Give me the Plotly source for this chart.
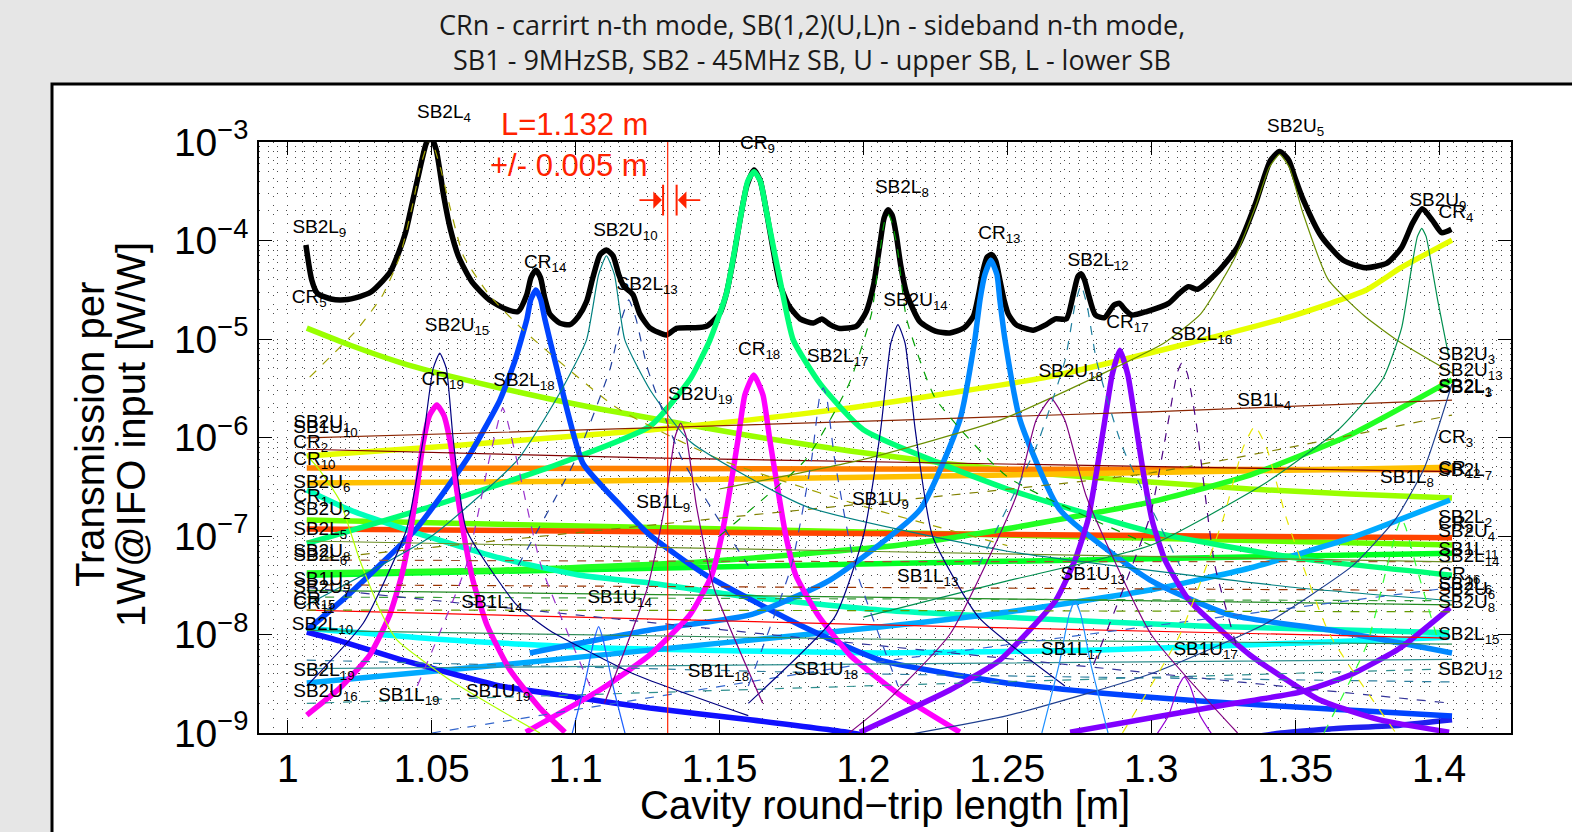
import math
import plotly.graph_objects as go

# ================= DATA =================
# black: total transmission
total_x = [1.0063, 1.0083, 1.0103, 1.0150, 1.0196, 1.0250, 1.0289, 1.0330, 1.0356, 1.0385,
           1.0409, 1.0435, 1.0460, 1.0480, 1.0495, 1.0515, 1.0542, 1.0565, 1.0594, 1.0640,
           1.0700, 1.0760, 1.0800, 1.0830, 1.0845, 1.0862, 1.0878, 1.0893, 1.0910, 1.0945,
           1.0980, 1.1010, 1.1038, 1.1060, 1.1085, 1.1107, 1.1130, 1.1150, 1.1168, 1.1185,
           1.1200, 1.1223, 1.1258, 1.1316, 1.1350, 1.1408, 1.1455, 1.1500, 1.1524, 1.1550,
           1.1571, 1.1595, 1.1620, 1.1642, 1.1664, 1.1690, 1.1710, 1.1740, 1.1780, 1.1826,
           1.1855, 1.1884, 1.1918, 1.1976, 1.2010, 1.2035, 1.2057, 1.2072, 1.2086, 1.2100,
           1.2115, 1.2130, 1.2150, 1.2196, 1.2250, 1.2300, 1.2350, 1.2382, 1.2400, 1.2416,
           1.2430, 1.2446, 1.2460, 1.2474, 1.2490, 1.2503, 1.2530, 1.2590, 1.2635, 1.2667,
           1.2705, 1.2730, 1.2745, 1.2756, 1.2768, 1.2781, 1.2806, 1.2838, 1.2870, 1.2890,
           1.2908, 1.2933, 1.2984, 1.3060, 1.3097, 1.3129, 1.3161, 1.3237, 1.3300, 1.3363,
           1.3390, 1.3414, 1.3446, 1.3477, 1.3500, 1.3528, 1.3591, 1.3667, 1.3743, 1.3819,
           1.3870, 1.3908, 1.3942, 1.3977, 1.4009, 1.4043]
total_y = [9.0e-5, 4.0e-5, 2.9e-5, 2.55e-5, 2.5e-5, 2.7e-5, 3.0e-5, 3.9e-5, 4.8e-5, 7.5e-5,
           1.2e-4, 2.6e-4, 5.5e-4, 9.5e-4, 1.15e-3, 8.5e-4, 2.8e-4, 1.3e-4, 6.8e-5, 3.8e-5,
           2.5e-5, 2.0e-5, 1.9e-5, 2.8e-5, 4.2e-5, 5.0e-5, 4.2e-5, 2.6e-5, 1.8e-5, 1.45e-5,
           1.4e-5, 1.7e-5, 2.4e-5, 4.2e-5, 7.2e-5, 8.0e-5, 7.0e-5, 4.5e-5, 3.4e-5, 3.1e-5,
           2.8e-5, 1.8e-5, 1.3e-5, 1.1e-5, 1.28e-5, 1.3e-5, 1.35e-5, 1.8e-5, 2.9e-5, 7.0e-5,
           1.6e-4, 3.6e-4, 5.2e-4, 4.0e-4, 1.9e-4, 7.0e-5, 3.6e-5, 2.2e-5, 1.6e-5, 1.45e-5,
           1.6e-5, 1.4e-5, 1.28e-5, 1.35e-5, 1.9e-5, 3.5e-5, 9.0e-5, 1.7e-4, 2.05e-4, 1.8e-4,
           1.1e-4, 5.5e-5, 2.9e-5, 1.5e-5, 1.2e-5, 1.15e-5, 1.3e-5, 1.7e-5, 2.8e-5, 5.0e-5,
           6.8e-5, 7.2e-5, 6.2e-5, 4.0e-5, 2.4e-5, 1.8e-5, 1.4e-5, 1.23e-5, 1.4e-5, 1.6e-5,
           1.6e-5, 2.9e-5, 4.3e-5, 4.6e-5, 4.0e-5, 2.9e-5, 1.75e-5, 1.65e-5, 2.2e-5, 2.3e-5,
           2.0e-5, 1.75e-5, 1.9e-5, 2.3e-5, 2.9e-5, 3.4e-5, 3.2e-5, 5.0e-5, 8.6e-5, 2.4e-4,
           4.2e-4, 6.5e-4, 8.0e-4, 6.6e-4, 4.3e-4, 2.6e-4, 1.1e-4, 6.3e-5, 5.3e-5, 5.9e-5,
           8.5e-5, 1.5e-4, 2.1e-4, 1.6e-4, 1.2e-4, 1.3e-4]

# ---- thick mode curves ----
cr5_x = [1.0066, 1.0215, 1.0389, 1.0563, 1.0737, 1.0911, 1.1084, 1.1258, 1.1606, 1.1953, 1.2301, 1.2648, 1.2996, 1.3343, 1.3691, 1.4045]
cr5_y = [1.29e-5, 8.7e-6, 5.8e-6, 4.2e-6, 3.18e-6, 2.46e-6, 1.95e-6, 1.58e-6, 1.04e-6, 7.3e-7, 5.4e-7, 4.26e-7, 3.53e-7, 3.0e-7, 2.67e-7, 2.43e-7]
cr4_x = [1.0066, 1.0563, 1.0911, 1.1258, 1.1606, 1.1953, 1.2301, 1.2638, 1.3107, 1.3489, 1.3743, 1.3868, 1.4045]
cr4_y = [6.5e-7, 8.2e-7, 9.9e-7, 1.19e-6, 1.51e-6, 1.99e-6, 2.83e-6, 4.1e-6, 8.7e-6, 1.71e-5, 3.1e-5, 5.3e-5, 1.01e-4]
cr10_x = [1.0066, 1.2000, 1.4045]
cr10_y = [4.9e-7, 4.8e-7, 4.7e-7]
sb2u6_x = [1.0066, 1.1000, 1.2000, 1.3000, 1.4045]
sb2u6_y = [3.45e-7, 3.6e-7, 3.95e-7, 4.4e-7, 5.0e-7]
sb2l5_x = [1.0066, 1.2000, 1.4045]
sb2l5_y = [1.18e-7, 1.06e-7, 9.6e-8]
sb2u2_x = [1.0066, 1.2000, 1.4045]
sb2u2_y = [1.45e-7, 1.1e-7, 8.1e-8]
sb2u8_x = [1.0066, 1.2000, 1.4045]
sb2u8_y = [4.0e-8, 5.2e-8, 6.7e-8]
sb2l3_x = [1.0066, 1.0737, 1.1432, 1.2127, 1.2474, 1.2996, 1.3343, 1.3691, 1.4045]
sb2l3_y = [4.2e-8, 4.5e-8, 5.45e-8, 8.1e-8, 1.15e-7, 2.21e-7, 4.16e-7, 1.06e-6, 3.84e-6]
cr9_x = [1.0066, 1.0500, 1.0911, 1.1258, 1.1400, 1.1467, 1.1524, 1.1571, 1.1598, 1.1620,
         1.1642, 1.1664, 1.1710, 1.1756, 1.1850, 1.2000, 1.2500, 1.3000, 1.3500, 1.4045]
cr9_y = [8.4e-8, 2.0e-7, 5.0e-7, 1.3e-6, 4.0e-6, 9.8e-6, 2.9e-5, 1.6e-4, 4.0e-4, 5.0e-4,
         4.0e-4, 1.9e-4, 4.0e-5, 9.8e-6, 3.5e-6, 1.2e-6, 3.0e-7, 1.1e-7, 6.0e-8, 4.0e-8]
cr2_x = [1.0066, 1.0215, 1.0448, 1.0737, 1.1015, 1.1258, 1.1606, 1.2057, 1.2474, 1.3169, 1.4035]
cr2_y = [2.93e-7, 1.84e-7, 1.07e-7, 5.98e-8, 4.0e-8, 3.33e-8, 2.4e-8, 1.77e-8, 1.51e-8, 1.22e-8, 1.04e-8]
sb2l15_x = [1.0066, 1.0563, 1.1084, 1.2057, 1.2822, 1.3517, 1.4035]
sb2l15_y = [1.16e-8, 8.8e-9, 7.3e-9, 6.5e-9, 6.96e-9, 8.2e-9, 9.4e-9]
sb2l19_x = [1.0066, 1.0737, 1.1432, 1.2057, 1.2474, 1.2996, 1.3343, 1.3691, 1.4038]
sb2l19_y = [3.22e-9, 4.9e-9, 7.8e-9, 1.19e-8, 1.65e-8, 2.83e-8, 4.73e-8, 9.5e-8, 2.32e-7]
cr14_x = [1.0066, 1.0215, 1.0448, 1.0622, 1.0737, 1.0789, 1.0831, 1.0844, 1.0862, 1.0879, 1.0893,
          1.0935, 1.1025, 1.1154, 1.1258, 1.1453, 1.1779, 1.2057, 1.2474, 1.2822, 1.3169, 1.3621, 1.4045]
cr14_y = [1.1e-8, 2.6e-8, 1.2e-7, 6.0e-7, 2.4e-6, 6.0e-6, 1.6e-5, 2.5e-5, 3.14e-5, 2.5e-5, 1.6e-5,
          5.0e-6, 5.5e-7, 2.07e-7, 1.02e-7, 4.0e-8, 1.25e-8, 5.5e-9, 3.3e-9, 2.55e-9, 2.11e-9, 1.75e-9, 1.49e-9]
sb2l10_x = [1.0066, 1.0181, 1.0389, 1.0563, 1.0737, 1.0994, 1.1258, 1.1606, 1.1960, 1.2127]
sb2l10_y = [1.06e-8, 8.6e-9, 5.6e-9, 4.06e-9, 3.0e-9, 2.32e-9, 1.79e-9, 1.36e-9, 1.0e-9, 8.0e-10]
cr20_x = [1.3169, 1.3451, 1.3621, 1.3865, 1.4045]
cr20_y = [7.5e-10, 1.0e-9, 1.1e-9, 1.2e-9, 1.36e-9]
cr13_x = [1.0841, 1.1258, 1.1606, 1.1884, 1.2196, 1.2335, 1.2387, 1.2405, 1.2422, 1.2443,
          1.2464, 1.2474, 1.2492, 1.2544, 1.2683, 1.2996, 1.3274, 1.3621, 1.4045]
cr13_y = [6.5e-9, 1.11e-8, 1.58e-8, 3.57e-8, 1.84e-7, 1.51e-6, 9.8e-6, 2.49e-5, 4.5e-5, 6.3e-5,
          4.5e-5, 2.49e-5, 9.8e-6, 1.51e-6, 1.84e-7, 3.57e-8, 1.58e-8, 1.11e-8, 6.5e-9]
cr19_x = [1.0066, 1.0181, 1.0285, 1.0354, 1.0396, 1.0424, 1.0448, 1.0469, 1.0493, 1.0518,
          1.0542, 1.0566, 1.0587, 1.0612, 1.0643, 1.0692, 1.0772, 1.0876, 1.0963]
cr19_y = [1.52e-9, 2.86e-9, 6.2e-9, 1.58e-8, 4.0e-8, 1.02e-7, 2.93e-7, 8.4e-7, 1.69e-6, 2.14e-6,
          1.69e-6, 8.4e-7, 2.93e-7, 1.02e-7, 3.57e-8, 1.25e-8, 4.36e-9, 1.79e-9, 1.02e-9]
cr18_x = [1.0827, 1.1084, 1.1258, 1.1397, 1.1473, 1.1508, 1.1536, 1.1564, 1.1588, 1.1619,
          1.1651, 1.1675, 1.1703, 1.1730, 1.1765, 1.1842, 1.1953, 1.2127, 1.2335]
cr18_y = [1.02e-9, 2.73e-9, 6.2e-9, 1.58e-8, 4.0e-8, 1.02e-7, 2.93e-7, 9.4e-7, 2.7e-6, 4.3e-6,
          2.7e-6, 9.4e-7, 2.93e-7, 1.02e-7, 4.0e-8, 1.58e-8, 6.2e-9, 2.43e-9, 1.02e-9]
cr17_x = [1.1988, 1.2057, 1.2301, 1.2474, 1.2669, 1.2735, 1.2780, 1.2811, 1.2839, 1.2864, 1.2891,
          1.2919, 1.2944, 1.2971, 1.3003, 1.3048, 1.3131, 1.3343, 1.3586, 1.3795, 1.4035]
cr17_y = [1.02e-9, 1.26e-9, 2.73e-9, 5.5e-9, 2.24e-8, 5.7e-8, 1.45e-7, 4.68e-7, 1.51e-6, 4.3e-6, 7.7e-6,
          4.3e-6, 1.51e-6, 4.68e-7, 1.45e-7, 5.7e-8, 2.24e-8, 6.2e-9, 2.16e-9, 1.36e-9, 1.02e-9]
cr16_x = [1.2718, 1.2996, 1.3274, 1.3517, 1.3691, 1.3865, 1.4038]
cr16_y = [1.02e-9, 1.42e-9, 1.97e-9, 2.6e-9, 3.88e-9, 7.3e-9, 1.86e-8]

# ---- thin sideband curves ----
sb2l4_x = [1.0076, 1.0240, 1.0330, 1.0390, 1.0435, 1.0460, 1.0495, 1.0530, 1.0560, 1.0610, 1.0700, 1.0817, 1.1143, 1.1500, 1.2000, 1.2500]
sb2l4_y = [4.1e-6, 1.24e-5, 2.8e-5, 7.0e-5, 2.4e-4, 5.5e-4, 1.1e-3, 5.5e-4, 2.4e-4, 7.0e-5, 2.8e-5, 1.24e-5, 2.0e-6, 6.0e-7, 2.0e-7, 8.0e-8]
sb2u10_x = [1.0066, 1.0500, 1.0800, 1.0950, 1.1038, 1.1080, 1.1107, 1.1135, 1.1171, 1.1260, 1.1400, 1.1800, 1.2500, 1.3500, 1.4045]
sb2u10_y = [2.0e-8, 1.0e-7, 6.0e-7, 3.0e-6, 9.8e-6, 4.5e-5, 7.0e-5, 4.5e-5, 9.8e-6, 3.0e-6, 9.0e-7, 2.0e-7, 7.0e-8, 3.0e-8, 2.2e-8]
sb2l8_x = [1.1500, 1.1800, 1.1950, 1.2028, 1.2057, 1.2072, 1.2086, 1.2100, 1.2119, 1.2150, 1.2250, 1.2500, 1.3000]
sb2l8_y = [1.0e-7, 6.0e-7, 3.5e-6, 1.8e-5, 7.5e-5, 1.5e-4, 1.85e-4, 1.5e-4, 8.0e-5, 1.6e-5, 2.5e-6, 4.0e-7, 8.0e-8]
sb2u5_x = [1.1500, 1.2000, 1.2474, 1.2855, 1.3045, 1.3172, 1.3286, 1.3362, 1.3410, 1.3446, 1.3480, 1.3527, 1.3615, 1.3742, 1.3869, 1.4047]
sb2u5_y = [3.0e-7, 6.0e-7, 1.5e-6, 4.8e-6, 9.1e-6, 1.8e-5, 6.3e-5, 2.2e-4, 5.5e-4, 7.5e-4, 5.5e-4, 1.9e-4, 4.0e-5, 1.7e-5, 9.1e-6, 4.5e-6]
sb2u9_x = [1.2000, 1.2500, 1.2996, 1.3400, 1.3650, 1.3806, 1.3870, 1.3905, 1.3925, 1.3940, 1.3955, 1.3975, 1.3995, 1.4034]
sb2u9_y = [1.5e-8, 3.5e-8, 8.0e-8, 3.5e-7, 1.2e-6, 4.0e-6, 1.3e-5, 5.4e-5, 1.1e-4, 1.33e-4, 1.1e-4, 5.4e-5, 2.5e-5, 6.6e-6]
sb2u15_x = [1.0066, 1.0262, 1.0412, 1.0470, 1.0505, 1.0528, 1.0551, 1.0575, 1.0621, 1.0795, 1.0910, 1.1200, 1.1600]
sb2u15_y = [3.0e-9, 1.3e-8, 1.15e-7, 9.4e-7, 5.0e-6, 7.2e-6, 5.0e-6, 9.4e-7, 1.15e-7, 2.0e-8, 1.1e-8, 4.0e-9, 1.5e-9]
sb2u14_x = [1.1600, 1.1900, 1.2000, 1.2060, 1.2095, 1.2120, 1.2145, 1.2180, 1.2240, 1.2400, 1.2700]
sb2u14_y = [2.0e-9, 1.5e-8, 1.0e-7, 1.2e-6, 9.0e-6, 1.4e-5, 9.0e-6, 1.2e-6, 1.0e-7, 1.5e-8, 3.0e-9]
sb2u19_x = [1.1100, 1.1250, 1.1310, 1.1345, 1.1365, 1.1385, 1.1420, 1.1480, 1.1650]
sb2u19_y = [2.0e-9, 3.0e-8, 2.0e-7, 1.0e-6, 1.4e-6, 1.0e-6, 2.0e-7, 3.0e-8, 2.0e-9]
sb2u18_x = [1.1950, 1.2057, 1.2300, 1.2530, 1.2600, 1.2652, 1.2700, 1.2775, 1.3000, 1.3300]
sb2u18_y = [1.0e-9, 1.8e-9, 1.0e-8, 2.5e-7, 1.5e-6, 2.5e-6, 1.5e-6, 2.5e-7, 1.0e-8, 1.0e-9]
sb2l13_x = [1.0800, 1.1000, 1.1120, 1.1160, 1.1185, 1.1210, 1.1250, 1.1370, 1.1600]
sb2l13_y = [5.0e-8, 6.0e-7, 5.0e-6, 1.6e-5, 2.5e-5, 1.6e-5, 5.0e-6, 6.0e-7, 5.0e-8]
sb2l12_x = [1.2400, 1.2600, 1.2700, 1.2735, 1.2756, 1.2777, 1.2810, 1.2900, 1.3100]
sb2l12_y = [5.0e-8, 8.0e-7, 6.0e-6, 2.2e-5, 3.5e-5, 2.2e-5, 6.0e-6, 8.0e-7, 5.0e-8]
sb2l16_x = [1.2800, 1.2996, 1.3060, 1.3090, 1.3106, 1.3125, 1.3155, 1.3220, 1.3300]
sb2l16_y = [5.0e-9, 1.6e-7, 1.5e-6, 4.5e-6, 5.7e-6, 4.5e-6, 1.5e-6, 5.2e-8, 7.0e-9]
sb2l18_x = [1.0450, 1.0620, 1.0700, 1.0735, 1.0747, 1.0760, 1.0795, 1.0880, 1.1050]
sb2l18_y = [3.0e-9, 5.0e-8, 6.0e-7, 1.6e-6, 2.0e-6, 1.6e-6, 6.0e-7, 5.0e-8, 3.0e-9]
sb2l17_x = [1.1600, 1.1750, 1.1820, 1.1848, 1.1860, 1.1872, 1.1900, 1.1970, 1.2120]
sb2l17_y = [3.0e-9, 5.0e-8, 6.0e-7, 2.6e-6, 3.2e-6, 2.6e-6, 6.0e-7, 5.0e-8, 3.0e-9]
sb1l8_x = [1.2900, 1.3100, 1.3250, 1.3320, 1.3360, 1.3400, 1.3470, 1.3620, 1.3850]
sb1l8_y = [1.0e-9, 1.0e-8, 1.5e-7, 8.0e-7, 1.3e-6, 8.0e-7, 1.5e-7, 1.0e-8, 1.0e-9]
sb1u8_x = [1.3600, 1.3750, 1.3820, 1.3855, 1.3870, 1.3885, 1.3920, 1.4000]
sb1u8_y = [1.0e-9, 8.0e-9, 5.0e-8, 1.2e-7, 1.5e-7, 1.2e-7, 5.0e-8, 8.0e-9]
sb1l17_x = [1.2620, 1.2680, 1.2715, 1.2735, 1.2755, 1.2790, 1.2850]
sb1l17_y = [1.0e-9, 5.0e-9, 1.6e-8, 2.2e-8, 1.6e-8, 5.0e-9, 1.0e-9]
sb1u17_x = [1.3000, 1.3060, 1.3095, 1.3115, 1.3135, 1.3170, 1.3230]
sb1u17_y = [8.0e-10, 1.5e-9, 3.0e-9, 3.7e-9, 3.0e-9, 1.5e-9, 8.0e-10]
sb1u14_x = [1.0980, 1.1030, 1.1065, 1.1080, 1.1095, 1.1130, 1.1180]
sb1u14_y = [8.0e-10, 3.0e-9, 9.0e-9, 1.2e-8, 9.0e-9, 3.0e-9, 8.0e-10]
cr1_x = [1.0066, 1.0110, 1.0180, 1.0250, 1.0320, 1.0379, 1.0563, 1.0737, 1.0876]
cr1_y = [6.6e-7, 4.7e-7, 2.3e-7, 5.7e-8, 1.77e-8, 8.8e-9, 3.45e-9, 1.71e-9, 1.0e-9]
sb2u13_x = [1.2000, 1.2500, 1.3000, 1.3400, 1.3700, 1.3850, 1.3950, 1.4045]
sb2u13_y = [8.0e-10, 1.5e-9, 4.0e-9, 1.3e-8, 5.0e-8, 1.5e-7, 5.0e-7, 3.5e-6]
sb1l4_x = [1.0066, 1.1258, 1.2996, 1.4045]
sb1l4_y = [9.9e-7, 1.25e-6, 1.82e-6, 2.4e-6]
sb1u5_x = [1.0066, 1.1258, 1.4045]
sb1u5_y = [7.6e-7, 6.2e-7, 4.5e-7]
cr15_x = [1.0066, 1.2057, 1.4035]
cr15_y = [1.77e-8, 1.25e-8, 9.2e-9]
sb2l1_x = [1.0066, 1.1432, 1.2996, 1.4045]
sb2l1_y = [5.7e-8, 1.45e-7, 4.36e-7, 1.69e-6]
sb1l11_x = [1.0066, 1.2000, 1.4045]
sb1l11_y = [5.7e-8, 5.5e-8, 5.5e-8]
sb1u3_x = [1.0066, 1.2000, 1.4045]
sb1u3_y = [3.2e-8, 3.0e-8, 2.8e-8]
sb2l14_x = [1.0066, 1.2000, 1.4045]
sb2l14_y = [8.9e-8, 7.0e-8, 5.45e-8]
sb2u7_x = [1.0066, 1.2000, 1.4045]
sb2u7_y = [2.8e-8, 2.4e-8, 2.0e-8]
sb2l6_x = [1.0066, 1.2000, 1.4045]
sb2l6_y = [1.77e-8, 1.75e-8, 1.7e-8]
sb2u12_x = [1.0066, 1.2000, 1.4045]
sb2u12_y = [4.5e-9, 5.0e-9, 5.6e-9]
sb2u16_x = [1.0066, 1.2000, 1.4045]
sb2u16_y = [2.0e-9, 3.0e-9, 4.5e-9]
cr11_x = [1.0066, 1.2000, 1.4045]
cr11_y = [1.1e-8, 9.0e-9, 8.0e-9]
sb1l13_x = [1.0066, 1.2000, 1.4045]
sb1l13_y = [2.4e-8, 2.3e-8, 2.2e-8]
sb1u13_x = [1.0500, 1.2000, 1.4045]
sb1u13_y = [1.0e-9, 5.0e-9, 3.0e-8]
sb1l14_x = [1.0066, 1.2000, 1.4045]
sb1l14_y = [3.0e-8, 8.0e-9, 2.0e-9]
sb1l18_x = [1.0066, 1.2000, 1.4045]
sb1l18_y = [5.5e-9, 4.0e-9, 3.3e-9]

# ---- curve labels inside the axes (text, data x, data y) ----
label_text = ["CR<sub>9</sub>", "SB2L<sub>8</sub>", "SB2U<sub>9</sub>", "CR<sub>4</sub>",
              "SB2L<sub>9</sub>", "SB2U<sub>10</sub>", "CR<sub>14</sub>", "SB2L<sub>13</sub>", "CR<sub>13</sub>", "SB2U<sub>14</sub>",
              "SB2L<sub>12</sub>", "CR<sub>17</sub>", "SB2L<sub>16</sub>", "CR<sub>5</sub>", "SB2U<sub>15</sub>", "CR<sub>18</sub>",
              "SB2L<sub>17</sub>", "CR<sub>19</sub>", "SB2L<sub>18</sub>", "SB2U<sub>18</sub>", "SB2U<sub>19</sub>", "SB1L<sub>4</sub>",
              "SB1L<sub>8</sub>", "SB1L<sub>9</sub>", "SB1U<sub>9</sub>", "SB1L<sub>13</sub>", "SB1U<sub>13</sub>", "SB1L<sub>14</sub>",
              "SB1U<sub>14</sub>", "SB1L<sub>17</sub>", "SB1U<sub>17</sub>", "SB1L<sub>18</sub>", "SB1U<sub>18</sub>", "SB1L<sub>19</sub>",
              "SB1U<sub>19</sub>", "SB2L<sub>19</sub>", "SB2U<sub>16</sub>", "SB2L<sub>10</sub>",
              "SB2U<sub>1</sub>", "SB1U<sub>10</sub>", "CR<sub>2</sub>", "CR<sub>10</sub>", "SB2U<sub>6</sub>", "CR<sub>1</sub>",
              "SB2U<sub>2</sub>", "SB2L<sub>5</sub>", "SB2U<sub>8</sub>", "SB2L<sub>6</sub>", "SB1U<sub>3</sub>", "SB2U<sub>7</sub>",
              "CR<sub>15</sub>", "CR<sub>11</sub>",
              "SB2U<sub>3</sub>", "SB2U<sub>13</sub>", "SB2L<sub>1</sub>", "SB2L<sub>3</sub>", "CR<sub>3</sub>", "CR<sub>12</sub>",
              "SB2L<sub>7</sub>", "SB2L<sub>2</sub>", "CR<sub>8</sub>", "SB2U<sub>4</sub>", "SB1L<sub>11</sub>", "SB2L<sub>14</sub>",
              "CR<sub>16</sub>", "SB2L<sub>6</sub>", "SB2U<sub>6</sub>", "SB2U<sub>8</sub>", "SB2L<sub>15</sub>", "SB2U<sub>12</sub>"]
label_x = [1.1571, 1.2040, 1.3897, 1.3998,
           1.0016, 1.1061, 1.0821, 1.1142, 1.2399, 1.2069,
           1.2709, 1.2844, 1.3068, 1.0014, 1.0476, 1.1564,
           1.1804, 1.0465, 1.0714, 1.2608, 1.1321, 1.3299,
           1.3795, 1.1211, 1.1960, 1.2117, 1.2685, 1.0603,
           1.1041, 1.2617, 1.3077, 1.1390, 1.1758, 1.0314,
           1.0619, 1.0019, 1.0019, 1.0014,
           1.0019, 1.0019, 1.0019, 1.0019, 1.0019, 1.0019,
           1.0019, 1.0019, 1.0019, 1.0019, 1.0019, 1.0019,
           1.0019, 1.0019,
           1.3997, 1.3997, 1.3997, 1.3997, 1.3997, 1.3997,
           1.3997, 1.3997, 1.3997, 1.3997, 1.3997, 1.3997,
           1.3997, 1.3997, 1.3997, 1.3997, 1.3997, 1.3997]
label_y = [9.6e-4, 3.41e-4, 2.48e-4, 1.89e-4,
           1.33e-4, 1.23e-4, 5.86e-5, 3.53e-5, 1.16e-4, 2.39e-5,
           6.1e-5, 1.44e-5, 1.1e-5, 2.6e-5, 1.36e-5, 7.7e-6,
           6.6e-6, 3.84e-6, 3.69e-6, 4.6e-6, 2.7e-6, 2.31e-6,
           3.86e-7, 2.16e-7, 2.32e-7, 3.84e-8, 4.0e-8, 2.07e-8,
           2.35e-8, 6.97e-9, 6.97e-9, 4.16e-9, 4.36e-9, 2.34e-9,
           2.6e-9, 4.19e-9, 2.62e-9, 1.25e-8,
           1.40e-6, 1.25e-6, 8.8e-7, 5.9e-7, 3.45e-7, 2.49e-7,
           1.84e-7, 1.15e-7, 6.9e-8, 6.3e-8, 3.57e-8, 2.96e-8,
           2.24e-8, 2.04e-8,
           6.9e-6, 4.66e-6, 3.25e-6, 3.18e-6, 9.9e-7, 4.78e-7,
           4.57e-7, 1.52e-7, 1.32e-7, 1.1e-7, 7.2e-8, 6.1e-8,
           4.0e-8, 3.18e-8, 2.8e-8, 2.09e-8, 9.9e-9, 4.36e-9]
# labels sitting above the top of the axes
top_label_text = ["SB2L<sub>4</sub>", "SB2U<sub>5</sub>"]
top_label_x = [1.0441, 1.3397]
top_label_y = [1.97e-3, 1.43e-3]

# ---- operating point marker ----
L_value = 1.132
L_text = ["L=1.132 m", "+/- 0.005 m"]
L_text_x = 1.1258
L_text_y = [1.49e-3, 5.83e-4]
tol_bar_x = [1.1304, 1.1351]
tol_bar_y = [2.57e-4, 2.57e-4]

# axes ticks
x_tick_vals = [1.0, 1.05, 1.1, 1.15, 1.2, 1.25, 1.3, 1.35, 1.4]
x_tick_text = ["1", "1.05", "1.1", "1.15", "1.2", "1.25", "1.3", "1.35", "1.4"]
y_tick_vals = [1e-9, 1e-8, 1e-7, 1e-6, 1e-5, 1e-4, 1e-3]
y_tick_text = ["10<sup>\u22129</sup>", "10<sup>\u22128</sup>", "10<sup>\u22127</sup>", "10<sup>\u22126</sup>",
               "10<sup>\u22125</sup>", "10<sup>\u22124</sup>", "10<sup>\u22123</sup>"]
y_minor_vals = [m * 10.0 ** e for e in range(-9, -3) for m in range(2, 10)]

# ================= STYLES =================
thick_curves = [
    ("cr5", cr5_x, cr5_y, "#99ff00"), ("cr4", cr4_x, cr4_y, "#e6ff00"),
    ("cr10", cr10_x, cr10_y, "#ff8000"), ("sb2u6", sb2u6_x, sb2u6_y, "#ffc000"),
    ("sb2u2", sb2u2_x, sb2u2_y, "#66ff00"), ("sb2l5", sb2l5_x, sb2l5_y, "#ff4400"),
    ("sb2u8", sb2u8_x, sb2u8_y, "#00ff22"), ("sb2l3", sb2l3_x, sb2l3_y, "#22ff22"),
    ("cr2", cr2_x, cr2_y, "#00ffbb"), ("sb2l15", sb2l15_x, sb2l15_y, "#00ffff"),
    ("sb2l19", sb2l19_x, sb2l19_y, "#00aaff"), ("cr9", cr9_x, cr9_y, "#00ff77"),
    ("sb2l10", sb2l10_x, sb2l10_y, "#1010ff"), ("cr20", cr20_x, cr20_y, "#2020ee"),
    ("cr14", cr14_x, cr14_y, "#0044ff"), ("cr13", cr13_x, cr13_y, "#0088ff"),
    ("cr19", cr19_x, cr19_y, "#ff00ee"), ("cr18", cr18_x, cr18_y, "#ff00ff"),
    ("cr17", cr17_x, cr17_y, "#8800ff"), ("cr16", cr16_x, cr16_y, "#8000ff"),
]
thin_curves = [
    ("sb1l4", sb1l4_x, sb1l4_y, "#8b2500", "solid"), ("sb1u5", sb1u5_x, sb1u5_y, "#800000", "solid"),
    ("cr15", cr15_x, cr15_y, "#ff0000", "solid"), ("sb2l1", sb2l1_x, sb2l1_y, "#808000", "dash"),
    ("sb1l11", sb1l11_x, sb1l11_y, "#a0522d", "dash"), ("sb1u3", sb1u3_x, sb1u3_y, "#993300", "dash"),
    ("sb2l14", sb2l14_x, sb2l14_y, "#6b8e23", "solid"), ("sb2u7", sb2u7_x, sb2u7_y, "#228b22", "solid"),
    ("sb2l6", sb2l6_x, sb2l6_y, "#669900", "dash"), ("sb2u12", sb2u12_x, sb2u12_y, "#2f8f8f", "solid"),
    ("sb2u16", sb2u16_x, sb2u16_y, "#2f8f8f", "dash"), ("cr11", cr11_x, cr11_y, "#2e8b57", "solid"),
    ("sb1l13", sb1l13_x, sb1l13_y, "#3c9c3c", "dash"), ("sb1u13", sb1u13_x, sb1u13_y, "#3366cc", "dash"),
    ("sb1l14", sb1l14_x, sb1l14_y, "#333399", "dash"), ("sb1l18", sb1l18_x, sb1l18_y, "#2f7f9f", "dash"),
    ("cr1", cr1_x, cr1_y, "#b0ff00", "solid"), ("sb2u13", sb2u13_x, sb2u13_y, "#1f3f8f", "solid"),
    ("sb2l4", sb2l4_x, sb2l4_y, "#a0a000", "dash"), ("sb2u10", sb2u10_x, sb2u10_y, "#008080", "solid"),
    ("sb2l8", sb2l8_x, sb2l8_y, "#00a000", "dash"), ("sb2u5", sb2u5_x, sb2u5_y, "#6b8e00", "solid"),
    ("sb2u9", sb2u9_x, sb2u9_y, "#008f4f", "solid"), ("sb2u15", sb2u15_x, sb2u15_y, "#000080", "solid"),
    ("sb2u14", sb2u14_x, sb2u14_y, "#000080", "solid"), ("sb2u19", sb2u19_x, sb2u19_y, "#800080", "solid"),
    ("sb2u18", sb2u18_x, sb2u18_y, "#800080", "solid"), ("sb2l13", sb2l13_x, sb2l13_y, "#2040a0", "dash"),
    ("sb2l12", sb2l12_x, sb2l12_y, "#2080a0", "dash"), ("sb2l16", sb2l16_x, sb2l16_y, "#4b0082", "dash"),
    ("sb2l18", sb2l18_x, sb2l18_y, "#9932cc", "dash"), ("sb2l17", sb2l17_x, sb2l17_y, "#3050c0", "dash"),
    ("sb1l8", sb1l8_x, sb1l8_y, "#e6e600", "dash"), ("sb1u8", sb1u8_x, sb1u8_y, "#33ff33", "dash"),
    ("sb1l17", sb1l17_x, sb1l17_y, "#1e90ff", "solid"), ("sb1u17", sb1u17_x, sb1u17_y, "#9400d3", "solid"),
    ("sb1u14", sb1u14_x, sb1u14_y, "#1e60ff", "solid"),
]

AX_FONT = "Liberation Sans"
RED = "#ff2200"
GRID = dict(gridcolor="#4a4a4a", gridwidth=1, griddash="1px,8px")

fig = go.Figure()

fig.add_trace(go.Scatter(x=total_x, y=total_y, mode="lines", hoverinfo="skip",
                         line=dict(color="black", width=5.5, shape="spline", smoothing=0.6)))
for name, xs, ys, col in thick_curves:
    fig.add_trace(go.Scatter(x=xs, y=ys, mode="lines", name=name, hoverinfo="skip",
                             line=dict(color=col, width=5.5, shape="spline", smoothing=0.5)))
for name, xs, ys, col, dash in thin_curves:
    fig.add_trace(go.Scatter(x=xs, y=ys, mode="lines", name=name, hoverinfo="skip",
                             line=dict(color=col, width=1.2, dash=dash, shape="spline", smoothing=0.5)))

# operating point: vertical red line and tolerance bars
fig.add_trace(go.Scatter(x=[L_value, L_value], y=[1e-9, 1e-3], mode="lines", hoverinfo="skip",
                         line=dict(color=RED, width=1.2)))
fig.add_trace(go.Scatter(x=tol_bar_x, y=tol_bar_y, mode="markers", hoverinfo="skip",
                         marker=dict(symbol="line-ns-open", size=22, color=RED, line=dict(color=RED, width=2))))

# curve labels
fig.add_trace(go.Scatter(x=label_x, y=label_y, text=label_text, mode="text", hoverinfo="skip",
                         textposition="middle right", cliponaxis=False,
                         textfont=dict(family=AX_FONT, size=19, color="black")))

W, H = 1572, 832
L, R, T, B = 259, 61, 142, 99
def px(xp):
    return (xp - L) / (W - L - R)
def py(yp):
    return (H - B - yp) / (H - T - B)
def paper_from_log(v):
    return (math.log10(v) + 9.0) / 6.0

fig.update_layout(
    width=W, height=H, showlegend=False,
    margin=dict(l=L, r=R, t=T, b=B, pad=0),
    paper_bgcolor="#e6e6e6", plot_bgcolor="white",
    font=dict(family=AX_FONT, color="black"),
)
fig.update_xaxes(range=[0.99, 1.425], tickmode="array", tickvals=x_tick_vals, ticktext=x_tick_text,
                 ticks="inside", ticklen=13, tickwidth=1, tickcolor="black",
                 showline=True, linecolor="black", linewidth=1.5, mirror="ticks", zeroline=False,
                 showgrid=True, **GRID, ticklabelstandoff=0,
                 minor=dict(tickmode="linear", tick0=0.99, dtick=0.005, showgrid=True, ticks="", **GRID),
                 tickfont=dict(family=AX_FONT, size=39, color="black"))
fig.update_yaxes(type="log", range=[-9, -3], tickmode="array", tickvals=y_tick_vals, ticktext=y_tick_text,
                 ticks="inside", ticklen=13, tickwidth=1, tickcolor="black",
                 showline=True, linecolor="black", linewidth=1.5, mirror="ticks", zeroline=False,
                 showgrid=True, **GRID, ticklabelstandoff=1,
                 minor=dict(tickmode="array", tickvals=y_minor_vals, showgrid=True, ticks="", **GRID),
                 tickfont=dict(family=AX_FONT, size=39, color="black"))

# white figure panel with black frame
fig.add_shape(type="rect", xref="paper", yref="paper", layer="below",
              x0=px(52), x1=px(1600), y0=py(860), y1=py(84),
              line=dict(color="black", width=3), fillcolor="white")

ann = []
ann.append(dict(text="CRn - carrirt n-th mode, SB(1,2)(U,L)n - sideband n-th mode,", xref="paper", yref="paper",
                x=px(812), y=py(24), xanchor="center", yanchor="middle", showarrow=False,
                font=dict(family="Open Sans", size=27, color="#1a1a1a")))
ann.append(dict(text="SB1 - 9MHzSB, SB2 - 45MHz SB, U - upper SB, L - lower SB", xref="paper", yref="paper",
                x=px(812), y=py(60), xanchor="center", yanchor="middle", showarrow=False,
                font=dict(family="Open Sans", size=27, color="#1a1a1a")))
ann.append(dict(text="Transmission per", xref="paper", yref="paper", x=px(90), y=py(435),
                xanchor="center", yanchor="middle", textangle=-90, showarrow=False,
                font=dict(family=AX_FONT, size=40, color="black")))
ann.append(dict(text="1W@IFO input [W/W]", xref="paper", yref="paper", x=px(131), y=py(435),
                xanchor="center", yanchor="middle", textangle=-90, showarrow=False,
                font=dict(family=AX_FONT, size=40, color="black")))
ann.append(dict(text="Cavity round\u2212trip length [m]", xref="paper", yref="paper", x=px(885), y=py(805),
                xanchor="center", yanchor="middle", showarrow=False,
                font=dict(family=AX_FONT, size=40, color="black")))
for t, xv, yv in zip(top_label_text, top_label_x, top_label_y):
    ann.append(dict(text=t, xref="x", yref="paper", x=xv, y=paper_from_log(yv), xanchor="left",
                    yanchor="middle", showarrow=False, font=dict(family=AX_FONT, size=19, color="black")))
for t, yv in zip(L_text, L_text_y):
    ann.append(dict(text=t, xref="x", yref="paper", x=L_text_x, y=paper_from_log(yv), xanchor="right",
                    yanchor="middle", showarrow=False, font=dict(family=AX_FONT, size=31, color=RED)))
# tolerance arrows pointing toward the bars
ann.append(dict(text="", xref="x", yref="y", x=tol_bar_x[0] - 0.0004, y=math.log10(tol_bar_y[0]),
                ax=-24, ay=0, showarrow=True, arrowhead=1, arrowsize=1.8, arrowwidth=1.6, arrowcolor=RED))
ann.append(dict(text="", xref="x", yref="y", x=tol_bar_x[1] + 0.0004, y=math.log10(tol_bar_y[1]),
                ax=24, ay=0, showarrow=True, arrowhead=1, arrowsize=1.8, arrowwidth=1.6, arrowcolor=RED))
fig.update_layout(annotations=ann)

fig.write_html("out.html", config={"displayModeBar": False},
               post_script="document.body.style.margin='0px';document.body.style.overflow='hidden';"
                           "document.body.style.background='#e6e6e6';")
